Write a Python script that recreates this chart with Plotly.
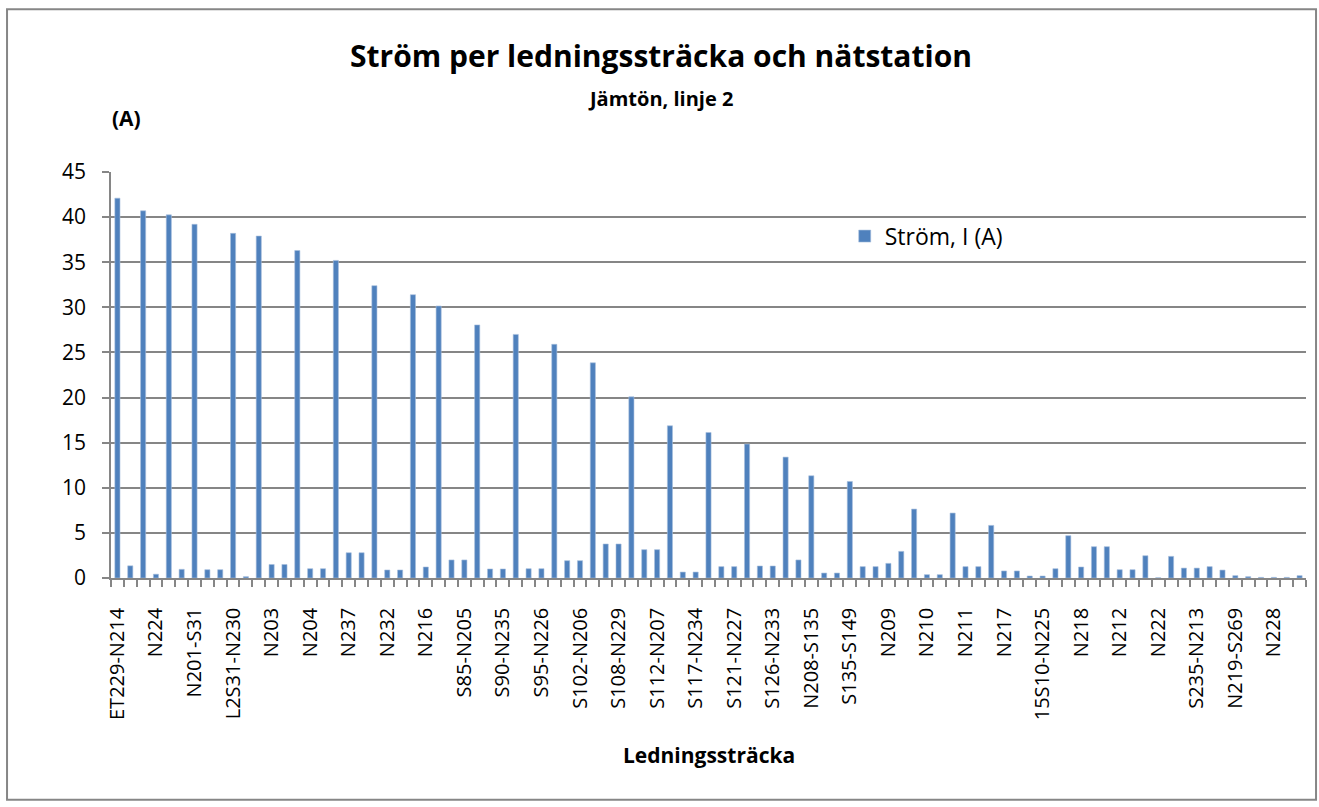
import plotly.graph_objects as go

# labels shown on the x axis (every third section)
labels = ["ET229-N214", "N224", "N201-S31", "L2S31-N230", "N203", "N204", "N237",
          "N232", "N216", "S85-N205", "S90-N235", "S95-N226", "S102-N206", "S108-N229",
          "S112-N207", "S117-N234", "S121-N227", "S126-N233", "N208-S135", "S135-S149",
          "N209", "N210", "N211", "N217", "15S10-N225", "N218", "N212", "N222",
          "S235-N213", "N219-S269", "N228"]

strom = [42.1, 1.35, 40.7, 0.42, 40.25, 0.96, 39.2, 0.92, 0.92, 38.2,
         0.15, 37.9, 1.5, 1.5, 36.3, 1.03, 1.03, 35.2, 2.8, 2.8,
         32.4, 0.89, 0.89, 31.4, 1.22, 30.15, 2.0, 2.0, 28.05, 1.0,
         1.0, 27.0, 1.03, 1.03, 25.9, 1.92, 1.92, 23.85, 3.77, 3.77,
         20.08, 3.14, 3.14, 16.87, 0.66, 0.66, 16.13, 1.26, 1.26, 14.84,
         1.33, 1.33, 13.4, 2.0, 11.33, 0.55, 0.55, 10.7, 1.26, 1.26,
         1.62, 2.95, 7.64, 0.37, 0.37, 7.2, 1.26, 1.26, 5.83, 0.78,
         0.78, 0.22, 0.22, 1.03, 4.69, 1.22, 3.47, 3.47, 0.92, 0.92,
         2.47, 0.03, 2.4, 1.1, 1.1, 1.26, 0.88, 0.26, 0.15, 0.07,
         0.07, 0.07, 0.26]

n = len(strom)
x = list(range(n))
font = "Open Sans, Noto Sans, sans-serif"

fig = go.Figure()
fig.add_trace(go.Bar(x=x, y=strom, name="Ström, I (A)",
                     marker=dict(color="#4F81BD", line=dict(color="#A7C0DE", width=0.6)),
                     showlegend=True))

fig.update_layout(
    width=1319, height=807,
    margin=dict(l=111, r=13, t=172, b=229),
    paper_bgcolor="white", plot_bgcolor="white",
    font=dict(family=font, color="black", size=21),
    bargap=0.6,
    legend=dict(x=0.614, y=0.842, xanchor="left", yanchor="middle",
                bgcolor="rgba(0,0,0,0)", font=dict(size=23)),
)

fig.update_xaxes(
    range=[-0.5, n - 0.5],
    tickmode="array", tickvals=x[::3], ticktext=labels,
    tickangle=-90, ticks="", ticklabelstandoff=20,
    showgrid=False, showline=True, linecolor="#868686", linewidth=1.5,
    minor=dict(tick0=-0.5, dtick=1, ticks="outside", ticklen=7,
               tickcolor="#868686", tickwidth=1.5, showgrid=False),
    tickfont=dict(size=20),
)
fig.update_yaxes(
    range=[0, 45], dtick=5,
    showgrid=True, gridcolor="#868686", gridwidth=1.5,
    showline=True, linecolor="#868686", linewidth=1.5,
    ticks="outside", ticklen=7, tickcolor="#868686", tickwidth=1.5,
    ticklabelstandoff=12, tickfont=dict(size=21),
    zeroline=False,
)

# border of the chart area
fig.add_shape(type="rect", xref="paper", yref="paper",
              x0=-0.087, x1=1.0084, y0=-0.546, y1=1.401,
              line=dict(color="#868686", width=2), fillcolor="rgba(0,0,0,0)")

fig.add_annotation(text="<b>Ström per ledningssträcka och nätstation</b>",
                   xref="paper", yref="paper", x=0.46, y=1.288,
                   xanchor="center", yanchor="middle",
                   showarrow=False, font=dict(size=30))
fig.add_annotation(text="<b>Jämtön, linje 2</b>",
                   xref="paper", yref="paper", x=0.46, y=1.182,
                   xanchor="center", yanchor="middle",
                   showarrow=False, font=dict(size=20))
fig.add_annotation(text="<b>(A)</b>",
                   xref="paper", yref="paper", x=0.0126, y=1.133,
                   xanchor="center", yanchor="middle",
                   showarrow=False, font=dict(size=21))
fig.add_annotation(text="<b>Ledningssträcka</b>",
                   xref="paper", yref="paper", x=0.5, y=-0.435,
                   xanchor="center", yanchor="middle",
                   showarrow=False, font=dict(size=21))

# page body has a default margin; remove it so the figure sits at the corner
fig.write_html("out.html", config={"displayModeBar": False},
               post_script="document.body.style.margin='0';")
